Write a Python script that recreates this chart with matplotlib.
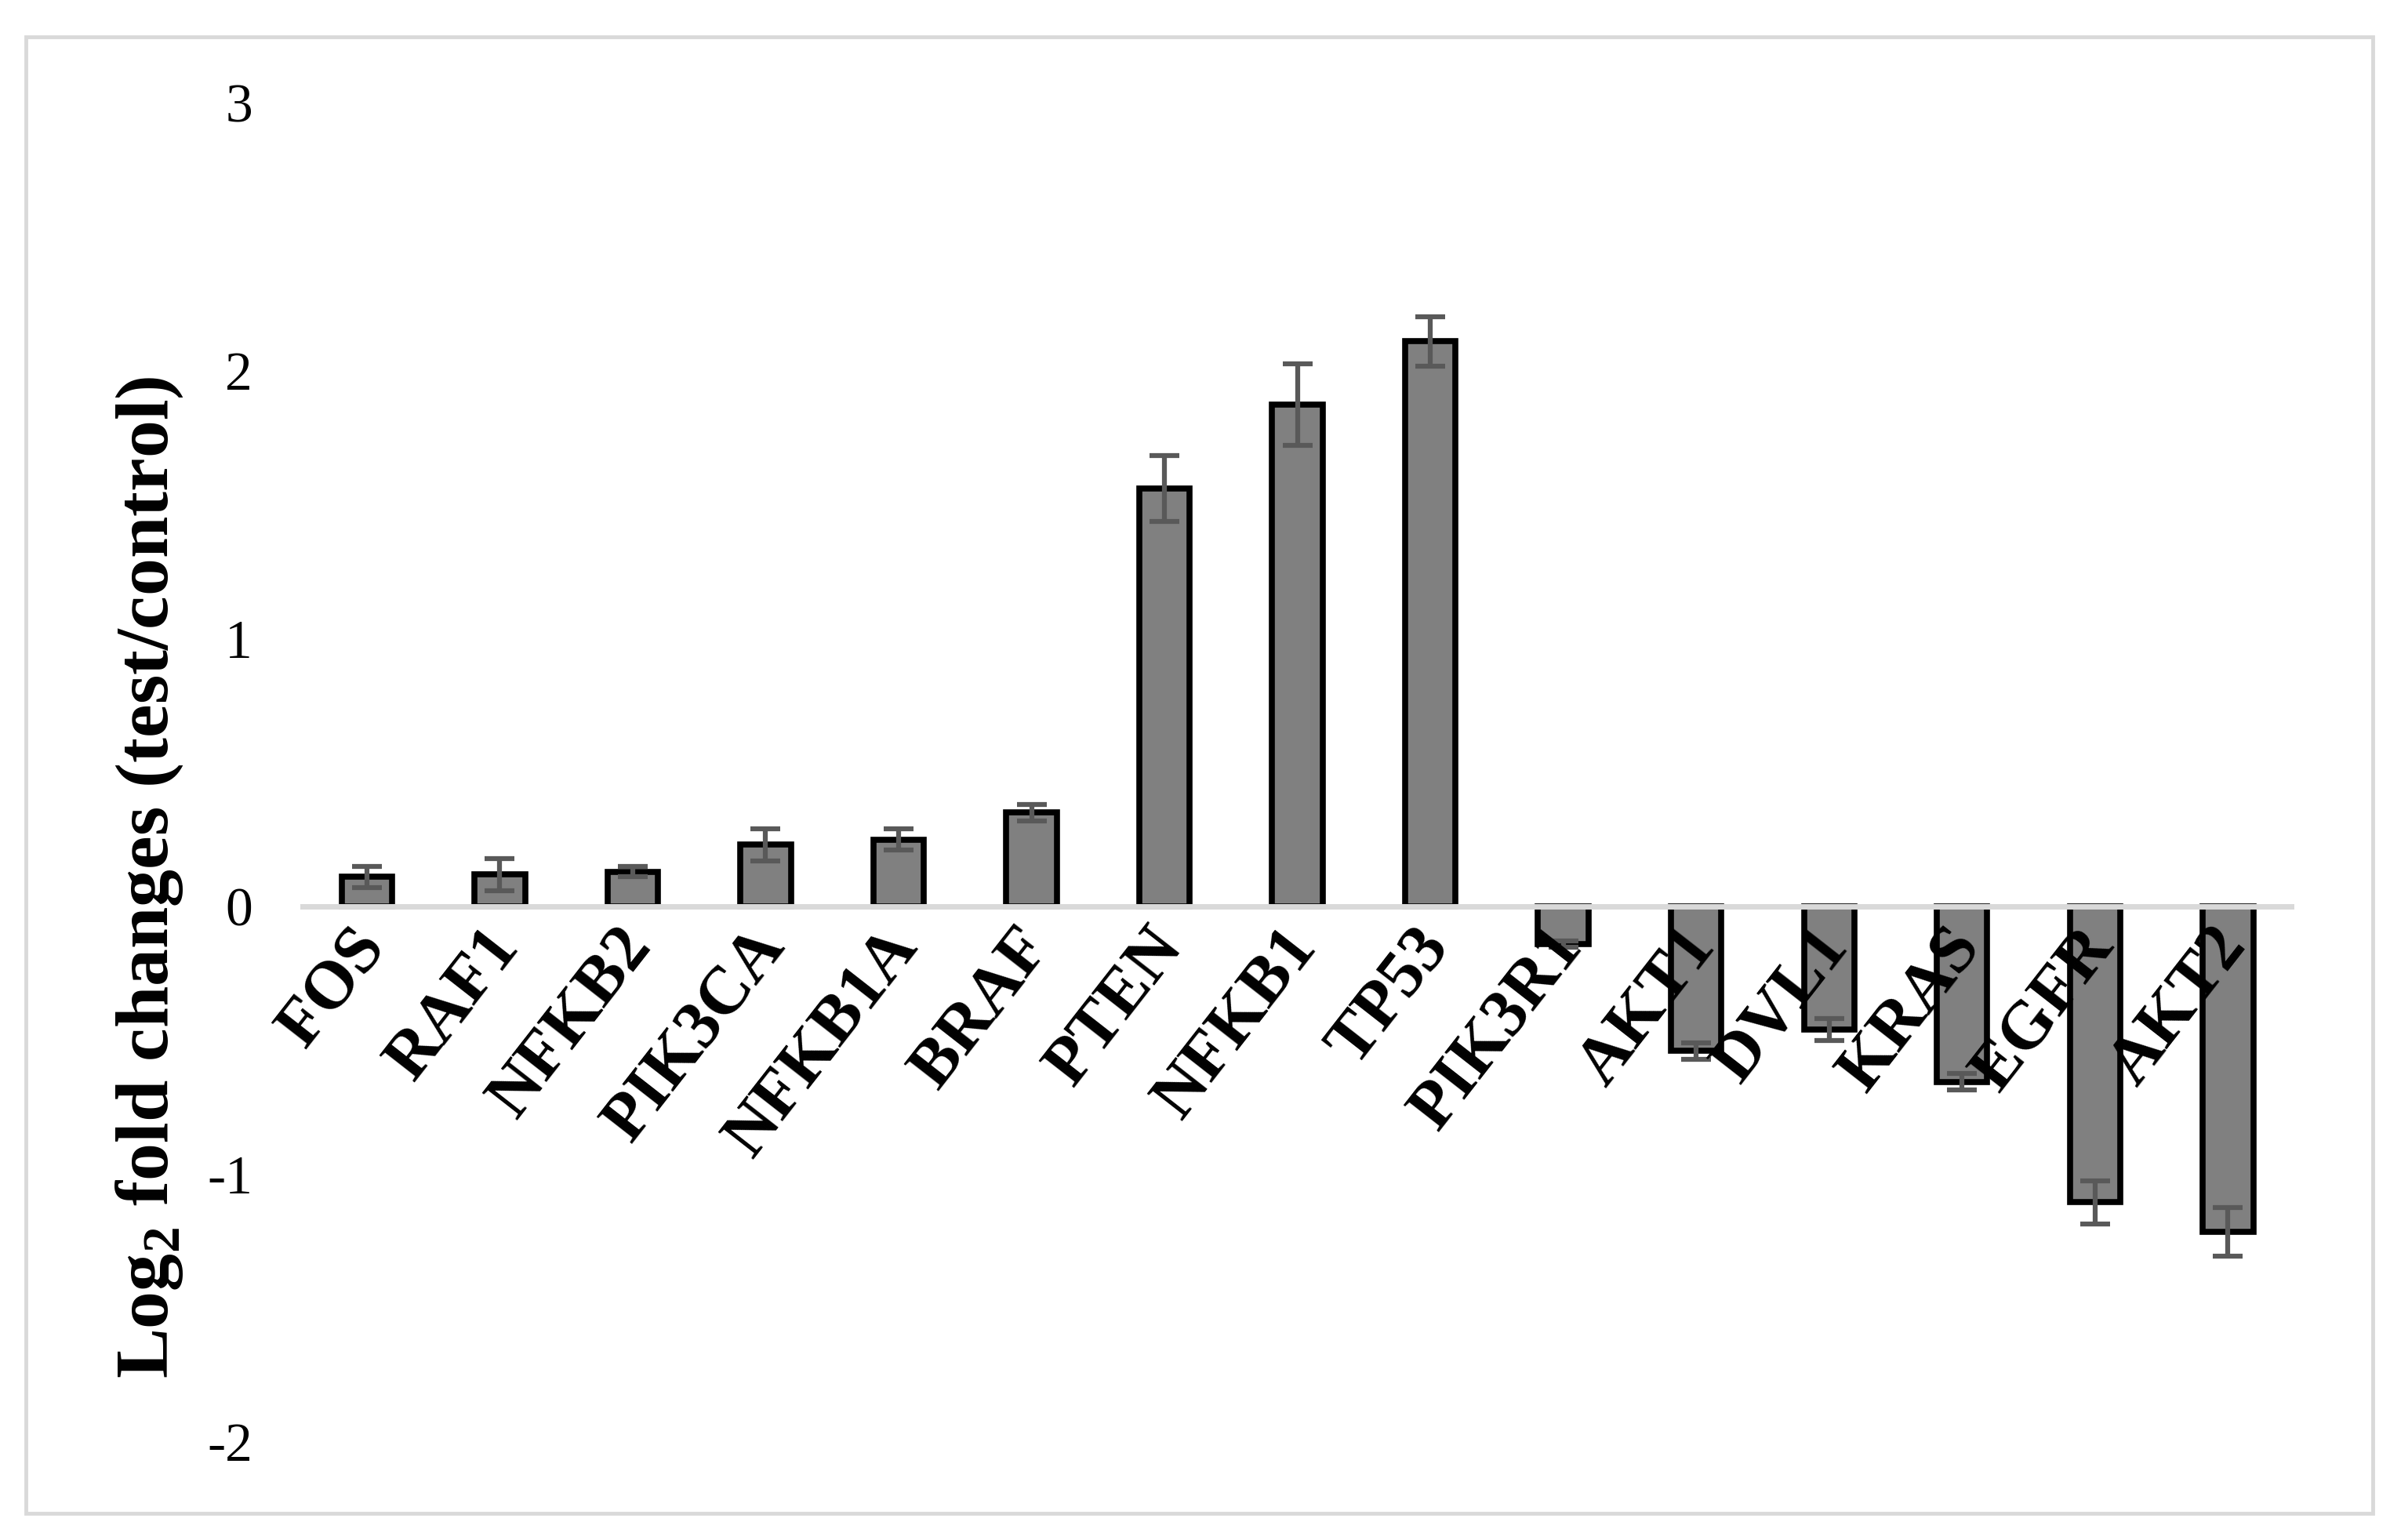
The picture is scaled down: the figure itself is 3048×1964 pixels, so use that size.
import matplotlib.pyplot as plt
import matplotlib.transforms as mtransforms
from matplotlib.patches import Rectangle

plt.rcParams['font.family'] = ['Liberation Serif', 'DejaVu Serif']
plt.rcParams['mathtext.fontset'] = 'custom'
plt.rcParams['mathtext.rm'] = 'Liberation Serif:bold'
plt.rcParams['mathtext.bf'] = 'Liberation Serif:bold'

# data
genes = ['FOS', 'RAF1', 'NFKB2', 'PIK3CA', 'NFKB1A', 'BRAF', 'PTEN', 'NFKB1',
         'TP53', 'PIK3R1', 'AKT1', 'DVL1', 'KRAS', 'EGFR', 'AKT2']
log2fc = [0.11, 0.12, 0.13, 0.23, 0.25, 0.35, 1.56, 1.875, 2.11,
          -0.14, -0.54, -0.46, -0.655, -1.105, -1.215]
err = [0.04, 0.06, 0.02, 0.06, 0.04, 0.03, 0.123, 0.152, 0.092,
       0.012, 0.03, 0.04, 0.03, 0.08, 0.09]
yticks = [-2, -1, 0, 1, 2, 3]

fig = plt.figure(figsize=(30.48, 19.64), dpi=100)
ax = fig.add_axes([0.1257, 0.0636, 0.8343, 0.8695])

x = list(range(len(genes)))
ax.bar(x, log2fc, width=0.38, color='#808080', edgecolor='black',
       linewidth=5.5, zorder=2)
ax.axhline(0, color='#D9D9D9', linewidth=5, zorder=3)
ax.errorbar(x, log2fc, yerr=err, fmt='none', ecolor='#595959',
            elinewidth=4.5, capsize=14, capthick=4.5, zorder=4)

ax.set_xlim(-0.5, len(genes) - 0.5)
ax.set_ylim(-2, 3)
ax.set_yticks(yticks)
ax.set_yticklabels([str(t) for t in yticks], fontsize=50)
ax.tick_params(axis='y', length=0, pad=44)

for s in ['top', 'right', 'left']:
    ax.spines[s].set_visible(False)
ax.spines['bottom'].set_position(('data', 0))
ax.spines['bottom'].set_visible(False)

# labels sit on top of the bars like in the original
ax.xaxis.set_zorder(5)
ax.set_xticks(x)
ax.set_xticklabels(genes, fontsize=62, fontweight='bold', rotation=52,
                   ha='right', va='top', rotation_mode='anchor')
ax.tick_params(axis='x', length=0, pad=10)
shift = mtransforms.ScaledTranslation(-0.22, 0, fig.dpi_scale_trans)
for lab in ax.get_xticklabels():
    lab.set_transform(lab.get_transform() + shift)

ax.set_ylabel(r'Log$_\mathbf{2}$ fold changes (test/control)', fontsize=69,
              fontweight='bold')
ax.yaxis.set_label_coords(-0.058, 0.422)

fig.patches.append(Rectangle((0.0108, 0.0173), 0.982, 0.9588,
                             transform=fig.transFigure, fill=False,
                             edgecolor='#D9D9D9', linewidth=3.5))

fig.savefig('out.png', dpi=100, facecolor='white')
